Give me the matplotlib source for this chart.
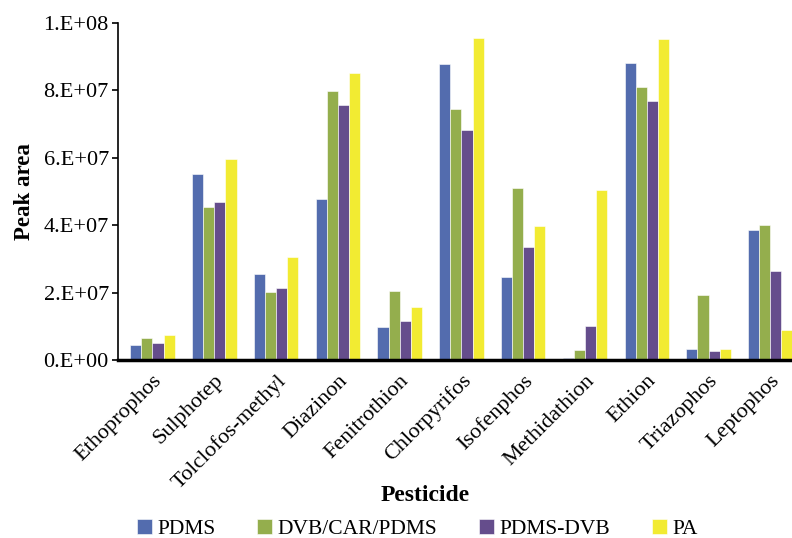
import numpy as np
import matplotlib.pyplot as plt

plt.rcParams['font.family'] = ['Liberation Serif', 'DejaVu Serif']

# --- Data ---
pesticides = ['Ethoprophos', 'Sulphotep', 'Tolclofos-methyl', 'Diazinon',
              'Fenitrothion', 'Chlorpyrifos', 'Isofenphos', 'Methidathion',
              'Ethion', 'Triazophos', 'Leptophos']

pdms = [4.5e6, 55.2e6, 25.6e6, 47.7e6, 9.7e6, 88.0e6, 24.6e6, 0.6e6, 88.2e6, 3.3e6, 38.5e6]
dvb_car_pdms = [6.4e6, 45.3e6, 20.3e6, 79.8e6, 20.6e6, 74.5e6, 51.1e6, 3.0e6, 81.0e6, 19.4e6, 40.0e6]
pdms_dvb = [5.1e6, 46.8e6, 21.5e6, 75.6e6, 11.7e6, 68.4e6, 33.5e6, 10.2e6, 76.8e6, 2.6e6, 26.3e6]
pa = [7.4e6, 59.6e6, 30.5e6, 85.2e6, 15.6e6, 95.6e6, 39.8e6, 50.4e6, 95.4e6, 3.1e6, 8.9e6]

ytick_vals = [0, 2e7, 4e7, 6e7, 8e7, 1e8]
ytick_labels = ['0.E+00', '2.E+07', '4.E+07', '6.E+07', '8.E+07', '1.E+08']

series = [('PDMS', pdms, '#536CAE'),
          ('DVB/CAR/PDMS', dvb_car_pdms, '#94AE4D'),
          ('PDMS-DVB', pdms_dvb, '#654D8C'),
          ('PA', pa, '#F2EB32')]

fig = plt.figure(figsize=(7.92, 5.38), dpi=100)
ax = fig.add_axes([0.1496, 0.331, 0.8504, 0.626])

x = np.arange(len(pesticides))
w = 0.18
for i, (name, vals, col) in enumerate(series):
    ax.bar(x + (i - 1.5) * w, vals, w, color=col, label=name,
           edgecolor='white', linewidth=0.4)

ax.set_xlim(-0.55, 10.35)
ax.set_ylim(0, 1e8)
ax.set_yticks(ytick_vals)
ax.set_yticklabels(ytick_labels)
ax.tick_params(axis='y', labelsize=16, direction='out', length=4, width=1.2, pad=3)
ax.set_xticks(x)
ax.set_xticklabels(pesticides, rotation=45, ha='right', rotation_mode='anchor', fontsize=16)
ax.tick_params(axis='x', length=0, pad=8)

for s in ['top', 'right']:
    ax.spines[s].set_visible(False)
ax.spines['left'].set_linewidth(1.2)
ax.spines['bottom'].set_linewidth(2.5)

ax.set_ylabel('Peak area', fontsize=16.5, fontweight='bold', labelpad=6)
fig.text(0.537, 0.079, 'Pesticide', fontsize=17, fontweight='bold', ha='center', va='center')

fig.legend(loc='center', bbox_to_anchor=(0.527, 0.017), ncol=4, frameon=False,
           fontsize=15.5, handlelength=0.7, handleheight=0.7, handletextpad=0.25,
           columnspacing=1.95)

plt.savefig('out.png', dpi=100)
